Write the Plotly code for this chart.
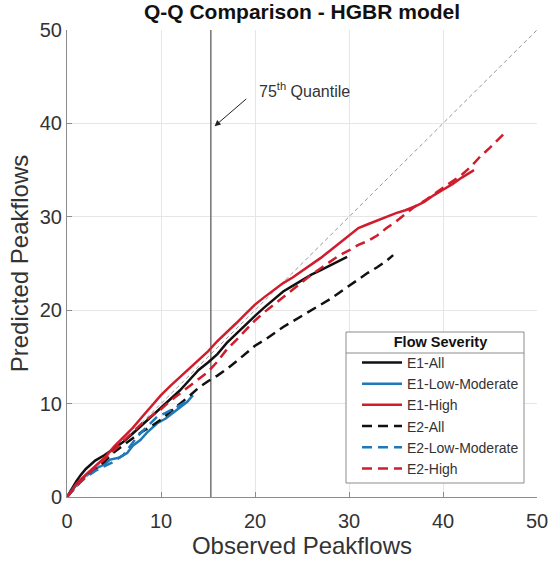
import plotly.graph_objects as go

# ---- data ----
e1_all_x = [0, 0.5, 1, 1.5, 2, 3, 4, 5, 6, 7, 8, 9, 10, 11, 12, 13, 14, 15, 16, 17, 18, 19, 20, 21, 22, 23, 24, 25, 26, 27, 28, 29, 29.8]
e1_all_y = [0, 0.9, 1.7, 2.4, 3.0, 3.9, 4.5, 5.2, 5.9, 6.8, 7.7, 8.6, 9.6, 10.5, 11.4, 12.5, 13.6, 14.4, 15.3, 16.5, 17.5, 18.4, 19.4, 20.3, 21.1, 22.0, 22.6, 23.2, 23.8, 24.3, 24.8, 25.3, 25.7]

e1_low_x = [0, 0.5, 1, 2, 3, 4, 4.6, 5.5, 6.4, 7, 7.8, 8.5, 9.6, 10.5, 11.3, 12, 12.8, 13.4]
e1_low_y = [0, 0.7, 1.3, 2.3, 3.0, 3.5, 4.0, 4.2, 4.7, 5.5, 6.1, 6.9, 7.9, 8.4, 9.0, 9.6, 10.2, 10.9]

e1_high_x = [0, 1, 2, 3, 4, 5, 6, 7, 8, 9, 10, 11, 12, 13, 14, 15, 16, 17, 18, 19, 20, 21, 22, 23, 24, 25, 26, 27, 28, 29, 30, 31, 32, 33, 34, 35, 36, 37, 38, 39, 40, 41, 42, 43.3]
e1_high_y = [0, 1.4, 2.4, 3.3, 4.2, 5.4, 6.4, 7.4, 8.6, 9.8, 10.9, 11.9, 12.8, 13.7, 14.6, 15.6, 16.7, 17.6, 18.6, 19.6, 20.6, 21.4, 22.2, 22.9, 23.5, 24.2, 24.9, 25.6, 26.4, 27.2, 28.0, 28.8, 29.2, 29.6, 30.0, 30.4, 30.7, 31.1, 31.6, 32.3, 32.9, 33.5, 34.2, 35.0]

e2_all_x = [0, 1, 2, 3, 4, 5, 6, 7, 8, 9, 10, 11, 12, 13, 14, 15, 16, 17, 18, 19, 20, 21, 22, 23, 24, 25, 26, 27, 28, 29, 30, 31, 32, 33, 34, 34.7]
e2_all_y = [0, 1.2, 2.2, 3.0, 3.8, 4.8, 5.6, 6.3, 7.0, 7.6, 8.3, 9.1, 9.9, 10.8, 11.7, 12.4, 13.0, 13.7, 14.5, 15.3, 16.2, 16.8, 17.5, 18.2, 18.8, 19.4, 20.0, 20.6, 21.2, 21.9, 22.6, 23.3, 24.0, 24.6, 25.3, 25.9]

e2_low_x = [0, 1, 2, 3, 4, 5, 6, 7, 7.5, 8.5, 9.6, 10.5, 11.3, 12, 12.8]
e2_low_y = [0, 1.2, 2.1, 2.8, 3.3, 3.8, 4.5, 5.9, 6.5, 7.5, 8.6, 9.0, 9.4, 9.8, 10.3]

e2_high_x = [0, 1, 2, 3, 4, 5, 6, 7, 8, 9, 10, 11, 12, 13, 14, 15, 16, 17, 18, 19, 20, 21, 22, 23, 24, 25, 26, 27, 28, 29, 30, 31, 32, 33, 34, 35, 36, 37, 38, 39, 40, 41, 42, 43, 44, 45, 46.5]
e2_high_y = [0, 1.2, 2.2, 3.1, 4.0, 5.0, 6.0, 7.0, 7.9, 8.7, 9.4, 10.3, 11.1, 11.8, 12.7, 13.4, 14.5, 15.8, 16.8, 17.9, 18.9, 19.8, 20.6, 21.5, 22.2, 23.0, 23.8, 24.5, 25.2, 25.9, 26.4, 27.0, 27.4, 28.0, 28.8, 29.5, 30.3, 31.1, 31.7, 32.4, 33.1, 33.8, 34.5, 35.4, 36.5, 37.4, 38.9]

quantile_75 = 15.3
ref_line = [0, 50]
ticks = [0, 10, 20, 30, 40, 50]

BLACK = "#111111"
BLUE = "#1f78b8"
RED = "#d01c2c"
FONT = "Arial, Liberation Sans, sans-serif"
TXT = "#333333"

fig = go.Figure()

fig.add_trace(go.Scatter(x=ref_line, y=ref_line, mode="lines", showlegend=False,
                         line=dict(color="#8a8a8a", width=0.9, dash="4px,3px"), hoverinfo="skip"))
fig.add_trace(go.Scatter(x=[quantile_75, quantile_75], y=[0, 50], mode="lines", showlegend=False,
                         line=dict(color="#7a7a7a", width=1.6), hoverinfo="skip"))

series = [
    ("E1-All", e1_all_x, e1_all_y, BLACK, "solid"),
    ("E1-Low-Moderate", e1_low_x, e1_low_y, BLUE, "solid"),
    ("E1-High", e1_high_x, e1_high_y, RED, "solid"),
    ("E2-All", e2_all_x, e2_all_y, BLACK, "10px,6px"),
    ("E2-Low-Moderate", e2_low_x, e2_low_y, BLUE, "10px,6px"),
    ("E2-High", e2_high_x, e2_high_y, RED, "10px,6px"),
]
for name, xs, ys, col, dash in series:
    fig.add_trace(go.Scatter(x=xs, y=ys, mode="lines", name=name,
                             line=dict(color=col, width=2.5, dash=dash)))

axis_common = dict(range=[0, 50], tickvals=ticks, showgrid=True, gridcolor="#e6e6e6", gridwidth=1,
                   zeroline=False, showline=True, linecolor="#8c8c8c", linewidth=1,
                   ticks="inside", ticklen=5, tickcolor="#8c8c8c", automargin=False,
                   tickfont=dict(family=FONT, size=20, color=TXT), mirror=False)

LEG_TOP = 328
fig.update_layout(
    width=551, height=565,
    margin=dict(l=67, r=14, t=30, b=68),
    paper_bgcolor="white", plot_bgcolor="white",
    title=dict(text="<b>Q-Q Comparison - HGBR model</b>", x=(67 + 537) / 2 / 551, xanchor="center",
               y=1 - 12 / 565, yanchor="middle", font=dict(family=FONT, size=21, color="#111111")),
    xaxis=dict(axis_common, ticklabelstandoff=6,
               title=dict(text="Observed Peakflows", font=dict(family=FONT, size=24, color=TXT), standoff=6)),
    yaxis=dict(axis_common,
               title=dict(text="Predicted Peakflows", font=dict(family=FONT, size=24, color=TXT), standoff=4)),
    legend=dict(x=(524 - 67) / 470, xanchor="right", y=(497 - LEG_TOP) / 467, yanchor="top",
                bgcolor="rgba(0,0,0,0)", borderwidth=0,
                font=dict(family=FONT, size=14, color=TXT),
                title=dict(text="<b>Flow Severity</b>", side="top center",
                           font=dict(family=FONT, size=14.5, color="#111111")),
                itemwidth=40),
    showlegend=True,
)

# 75th quantile label with arrow
fig.add_annotation(x=15.7, y=39.7, ax=20.2, ay=43.6, axref="x", ayref="y", xref="x", yref="y",
                   text="75<sup>th</sup> Quantile", showarrow=True, xanchor="left", yanchor="middle",
                   startstandoff=14, arrowhead=2, arrowsize=1.2, arrowwidth=1, arrowcolor="#222222",
                   font=dict(family=FONT, size=16, color=TXT))

# legend box and separator under legend title (paper coordinates)
def px_x(p):
    return (p - 67) / 470

def px_y(p):
    return (497 - p) / 467

fig.add_shape(type="rect", xref="paper", yref="paper", layer="above",
              x0=px_x(346), x1=px_x(524), y0=px_y(483), y1=px_y(332),
              fillcolor="white", line=dict(color="#8c8c8c", width=1))
fig.add_shape(type="line", xref="paper", yref="paper", layer="above",
              x0=px_x(346), x1=px_x(524), y0=px_y(353), y1=px_y(353),
              line=dict(color="#8c8c8c", width=1))

fig.write_html("out.html")
